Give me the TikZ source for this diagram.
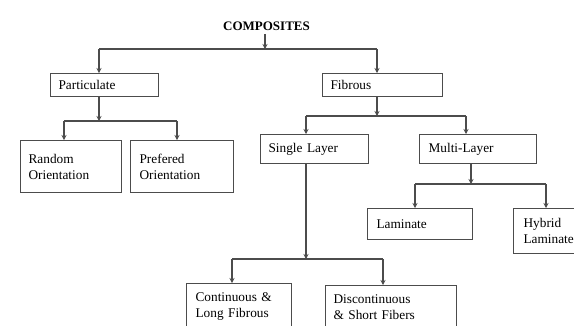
\documentclass[tikz,border=0pt]{standalone}
\usepackage{fontspec}
\setmainfont{Liberation Serif}
\usetikzlibrary{arrows.meta}
\begin{document}
\begin{tikzpicture}[x=1pt,y=-1pt,
  every node/.style={font=\fontsize{13.3}{16}\selectfont},
  box/.style={draw=black!70, line width=1.2pt, rectangle, anchor=north west,
    align=left, inner xsep=8pt, inner ysep=0pt},
  conn/.style={draw=black!70, line width=1.2pt},
  arr/.style={conn, -{Stealth[length=5pt,width=5pt]}}]
\useasboundingbox (0,0) rectangle (574,325);
\begin{scope}
\clip (0,0) rectangle (574,325);
% title
\node[font=\fontsize{13}{16}\selectfont\bfseries] (comp) at (266.5,26) {COMPOSITES};
% boxes
\node[box, text width=92pt, minimum height=23pt] (part) at (50,73) {Particulate};
\node[box, text width=104pt, minimum height=23pt] (fib) at (322,73) {Fibrous};
\node[box, text width=85pt, minimum height=52pt] (rand) at (20,140) {Random\\Orientation};
\node[box, text width=85pt, minimum height=52pt, inner xsep=9pt] (pref) at (130,140) {Prefered\\Orientation};
\node[box, text width=92pt, minimum height=29pt] (single) at (260,134) {Single Layer};
\node[box, text width=99pt, minimum height=29pt, inner xsep=9pt] (multi) at (419,134) {Multi-Layer};
\node[box, text width=87pt, minimum height=31pt, inner xsep=9pt] (lam) at (367,208) {Laminate};
\node[box, text width=56pt, minimum height=45pt, inner xsep=10pt] (hyb) at (513,208) {Hybrid\\Laminate};
\node[box, text width=87pt, minimum height=45pt, inner xsep=9pt] (cont) at (186,283) {Continuous \&\\Long Fibrous};
\node[box, text width=115pt, minimum height=44pt] (disc) at (325,285) {Discontinuous\\\& Short Fibers};
% junction coordinates
\coordinate (j0) at (265,49);
\coordinate (j0l) at (99,49);
\coordinate (j0r) at (377,49);
\coordinate (j1) at (99,121);
\coordinate (j1l) at (64,121);
\coordinate (j1r) at (177,121);
\coordinate (j2) at (377,116);
\coordinate (j2l) at (306,116);
\coordinate (j2r) at (466,116);
\coordinate (j3) at (306,259);
\coordinate (j3l) at (232,259);
\coordinate (j3r) at (383,259);
\coordinate (j4) at (471,184);
\coordinate (j4l) at (415,184);
\coordinate (j4r) at (546,184);
% connectors
\draw[arr] (comp.south -| j0) -- (j0);
\draw[conn] (j0l) -- (j0r);
\draw[arr] (j0l) -- (part.north -| j0l);
\draw[arr] (j0r) -- (fib.north -| j0r);
\draw[arr] (part.south -| j1) -- (j1);
\draw[conn] (j1l) -- (j1r);
\draw[arr] (j1l) -- (rand.north -| j1l);
\draw[arr] (j1r) -- (pref.north -| j1r);
\draw[arr] (fib.south -| j2) -- (j2);
\draw[conn] (j2l) -- (j2r);
\draw[arr] (j2l) -- (single.north -| j2l);
\draw[arr] (j2r) -- (multi.north -| j2r);
\draw[arr] (single.south -| j3) -- (j3);
\draw[conn] (j3l) -- (j3r);
\draw[arr] (j3l) -- (cont.north -| j3l);
\draw[arr] (j3r) -- (disc.north -| j3r);
\draw[arr] (multi.south -| j4) -- (j4);
\draw[conn] (j4l) -- (j4r);
\draw[arr] (j4l) -- (lam.north -| j4l);
\draw[arr] (j4r) -- (hyb.north -| j4r);
\end{scope}
\end{tikzpicture}
\end{document}
